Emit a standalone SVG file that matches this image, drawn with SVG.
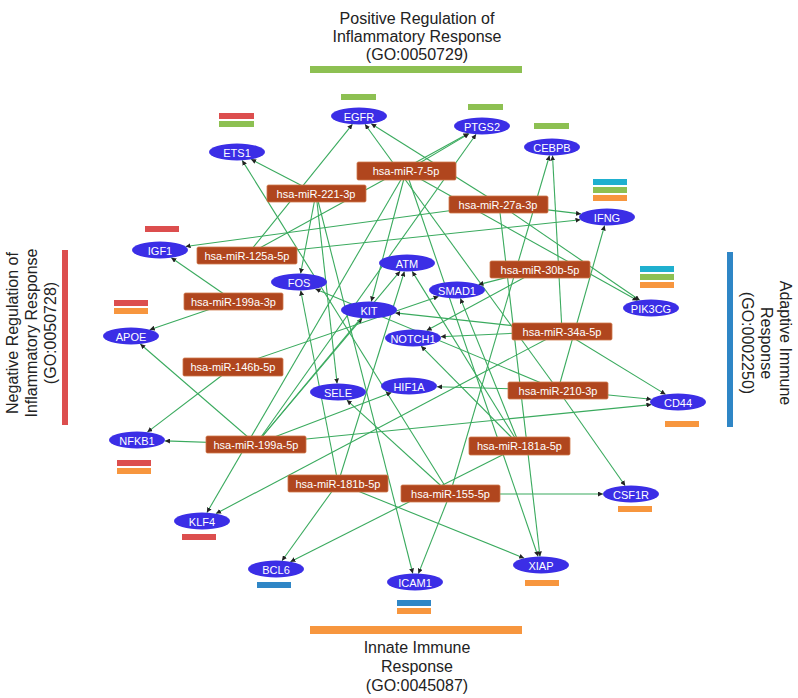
<svg xmlns="http://www.w3.org/2000/svg" width="798" height="698" viewBox="0 0 798 698">
<style>
.t{font-family:"Liberation Sans",Arial,sans-serif;font-size:16px;fill:#222;text-anchor:middle}
.g ellipse{fill:#3b2ee6}
.g text,.m text{font-family:"Liberation Sans",Arial,sans-serif;font-size:11px;fill:#fff;text-anchor:middle;dominant-baseline:central}
.m rect{fill:#b0461e;stroke:#cf7a4c;stroke-width:0.8}
#edges line{stroke:#3aaa5e;stroke-width:1.1;marker-end:url(#ah)}
.pos{fill:#8dc052}.neg{fill:#dc4e4e}.inn{fill:#f7963e}.ada{fill:#2f86c6}.cy{fill:#1fb0cf}
</style>
<defs>
<marker id="ah" viewBox="0 0 10 10" refX="10" refY="5" markerWidth="5" markerHeight="5" markerUnits="userSpaceOnUse" orient="auto">
<path d="M0,0 L10,5 L0,10 z" fill="#222"/>
</marker>
</defs>
<rect width="798" height="698" fill="#fff"/>
<g id="categories">
<rect class="pos" x="310" y="66" width="212" height="7"/>
<text class="t" x="417" y="24">Positive Regulation of</text>
<text class="t" x="417" y="42">Inflammatory Response</text>
<text class="t" x="417" y="60">(GO:0050729)</text>
<rect class="neg" x="62" y="250" width="6" height="175"/>
<text class="t" transform="translate(18,333) rotate(-90)">Negative Regulation of</text>
<text class="t" transform="translate(37,333) rotate(-90)">Inflammatory Response</text>
<text class="t" transform="translate(56,333) rotate(-90)">(GO:0050728)</text>
<rect class="ada" x="727" y="252" width="6" height="175"/>
<text class="t" transform="translate(780,343) rotate(90)">Adaptive Immune</text>
<text class="t" transform="translate(761,343) rotate(90)">Response</text>
<text class="t" transform="translate(742,343) rotate(90)">(GO:0002250)</text>
<rect class="inn" x="310" y="626" width="212" height="8"/>
<text class="t" x="417" y="653">Innate Immune</text>
<text class="t" x="417" y="672">Response</text>
<text class="t" x="417" y="691">(GO:0045087)</text>
</g>
<g id="edges">
<line x1="316" y1="193" x2="251.1" y2="159.3"/>
<line x1="450" y1="494" x2="242.2" y2="160.4"/>
<line x1="247" y1="255" x2="352.4" y2="124.3"/>
<line x1="499" y1="204" x2="371.2" y2="123.7"/>
<line x1="558" y1="390" x2="365" y2="124.3"/>
<line x1="406" y1="171" x2="469.2" y2="133.6"/>
<line x1="247" y1="255" x2="468.4" y2="133.4"/>
<line x1="256" y1="444" x2="476.1" y2="134.3"/>
<line x1="562" y1="331" x2="552.5" y2="155.5"/>
<line x1="450" y1="494" x2="549.5" y2="155.5"/>
<line x1="499" y1="204" x2="581" y2="213.9"/>
<line x1="247" y1="255" x2="580.5" y2="219.8"/>
<line x1="558" y1="390" x2="604.6" y2="225.5"/>
<line x1="499" y1="204" x2="185.6" y2="246.5"/>
<line x1="234" y1="301" x2="171.3" y2="257.8"/>
<line x1="234" y1="301" x2="149.7" y2="329.7"/>
<line x1="256" y1="444" x2="140.3" y2="344"/>
<line x1="406" y1="171" x2="637.6" y2="300.5"/>
<line x1="499" y1="204" x2="639.7" y2="300.2"/>
<line x1="540" y1="269" x2="478.5" y2="284.6"/>
<line x1="520" y1="446" x2="460.4" y2="298.4"/>
<line x1="338" y1="483" x2="404.4" y2="271.5"/>
<line x1="520" y1="446" x2="412.2" y2="271.4"/>
<line x1="406" y1="171" x2="371.3" y2="301.5"/>
<line x1="562" y1="331" x2="395.3" y2="312.9"/>
<line x1="256" y1="444" x2="362.1" y2="318.2"/>
<line x1="562" y1="331" x2="440.7" y2="336.7"/>
<line x1="540" y1="269" x2="426.7" y2="330.6"/>
<line x1="520" y1="446" x2="421.1" y2="346.1"/>
<line x1="316" y1="193" x2="300.6" y2="273.5"/>
<line x1="338" y1="483" x2="300.7" y2="290.5"/>
<line x1="558" y1="390" x2="315.5" y2="288.9"/>
<line x1="316" y1="193" x2="337.1" y2="383.5"/>
<line x1="450" y1="494" x2="346.9" y2="400.1"/>
<line x1="558" y1="390" x2="437" y2="386.8"/>
<line x1="256" y1="444" x2="391.5" y2="392.6"/>
<line x1="562" y1="331" x2="665.6" y2="394.4"/>
<line x1="558" y1="390" x2="651.4" y2="399.3"/>
<line x1="256" y1="444" x2="651.4" y2="404.6"/>
<line x1="450" y1="494" x2="603" y2="494"/>
<line x1="558" y1="390" x2="625.2" y2="485.7"/>
<line x1="233" y1="367" x2="147.4" y2="432.1"/>
<line x1="256" y1="444" x2="165" y2="440.9"/>
<line x1="406" y1="171" x2="206.9" y2="512.6"/>
<line x1="562" y1="331" x2="216" y2="513.6"/>
<line x1="338" y1="483" x2="282" y2="560.7"/>
<line x1="520" y1="446" x2="290.4" y2="561.7"/>
<line x1="316" y1="193" x2="412.8" y2="573.5"/>
<line x1="450" y1="494" x2="418.4" y2="573.6"/>
<line x1="338" y1="483" x2="524.2" y2="558.2"/>
<line x1="406" y1="171" x2="538.1" y2="556.5"/>
<line x1="499" y1="204" x2="540" y2="556.5"/>
<line x1="233" y1="367" x2="438.5" y2="296.4"/>
<line x1="256" y1="444" x2="400.1" y2="271.2"/>
</g>
<g id="annotations">
<rect class="pos" x="341" y="94" width="35" height="6"/>
<rect class="neg" x="219" y="113" width="35" height="6"/>
<rect class="pos" x="219" y="121" width="35" height="6"/>
<rect class="pos" x="468" y="104" width="35" height="6"/>
<rect class="pos" x="534" y="123" width="35" height="6"/>
<rect class="cy" x="593" y="179" width="34" height="6"/>
<rect class="pos" x="593" y="187" width="34" height="6"/>
<rect class="inn" x="593" y="195" width="34" height="6"/>
<rect class="neg" x="145" y="226" width="34" height="6"/>
<rect class="neg" x="114" y="300" width="34" height="6"/>
<rect class="inn" x="114" y="308" width="34" height="6"/>
<rect class="cy" x="640" y="266" width="34" height="6"/>
<rect class="pos" x="640" y="274" width="34" height="6"/>
<rect class="inn" x="640" y="282" width="34" height="6"/>
<rect class="inn" x="665" y="421" width="34" height="6"/>
<rect class="neg" x="117" y="460" width="34" height="6"/>
<rect class="inn" x="117" y="468" width="34" height="6"/>
<rect class="inn" x="618" y="506" width="34" height="6"/>
<rect class="neg" x="182" y="534" width="34" height="6"/>
<rect class="ada" x="257" y="582" width="34" height="6"/>
<rect class="inn" x="525" y="580" width="34" height="6"/>
<rect class="ada" x="397" y="600" width="34" height="6"/>
<rect class="inn" x="397" y="608" width="34" height="6"/>
</g>
<g id="mirnas" class="m">
<g id="miR-7-5p"><rect x="357" y="162" width="99" height="18" rx="1.5"/><text x="406" y="171">hsa-miR-7-5p</text></g>
<g id="miR-221-3p"><rect x="267" y="185" width="99" height="17" rx="1.5"/><text x="316" y="193.5">hsa-miR-221-3p</text></g>
<g id="miR-27a-3p"><rect x="449" y="196" width="99" height="17" rx="1.5"/><text x="498" y="204.5">hsa-miR-27a-3p</text></g>
<g id="miR-125a-5p"><rect x="197" y="247" width="100" height="17" rx="1.5"/><text x="247" y="255.5">hsa-miR-125a-5p</text></g>
<g id="miR-199a-3p"><rect x="184" y="293" width="99" height="17" rx="1.5"/><text x="233.5" y="301.5">hsa-miR-199a-3p</text></g>
<g id="miR-30b-5p"><rect x="490" y="261" width="100" height="17" rx="1.5"/><text x="540" y="269.5">hsa-miR-30b-5p</text></g>
<g id="miR-34a-5p"><rect x="512" y="323" width="100" height="17" rx="1.5"/><text x="562" y="331.5">hsa-miR-34a-5p</text></g>
<g id="miR-146b-5p"><rect x="183" y="358" width="100" height="18" rx="1.5"/><text x="233" y="367">hsa-miR-146b-5p</text></g>
<g id="miR-210-3p"><rect x="508" y="382" width="100" height="17" rx="1.5"/><text x="558" y="390.5">hsa-miR-210-3p</text></g>
<g id="miR-199a-5p"><rect x="206" y="436" width="100" height="17" rx="1.5"/><text x="256" y="444.5">hsa-miR-199a-5p</text></g>
<g id="miR-181a-5p"><rect x="469" y="437" width="101" height="18" rx="1.5"/><text x="519.5" y="446">hsa-miR-181a-5p</text></g>
<g id="miR-181b-5p"><rect x="288" y="475" width="100" height="17" rx="1.5"/><text x="338" y="483.5">hsa-miR-181b-5p</text></g>
<g id="miR-155-5p"><rect x="401" y="485" width="99" height="17" rx="1.5"/><text x="450.5" y="493.5">hsa-miR-155-5p</text></g>
</g>
<g id="genes" class="g">
<g id="EGFR"><ellipse cx="359" cy="116" rx="28" ry="8.5"/><text x="359" y="116.5">EGFR</text></g>
<g id="PTGS2"><ellipse cx="482" cy="126" rx="28" ry="8.5"/><text x="482" y="126.5">PTGS2</text></g>
<g id="CEBPB"><ellipse cx="552" cy="147" rx="28" ry="8.5"/><text x="552" y="147.5">CEBPB</text></g>
<g id="ETS1"><ellipse cx="237" cy="152" rx="28" ry="8.5"/><text x="237" y="152.5">ETS1</text></g>
<g id="IFNG"><ellipse cx="607" cy="217" rx="28" ry="8.5"/><text x="607" y="217.5">IFNG</text></g>
<g id="IGF1"><ellipse cx="160" cy="250" rx="28" ry="8.5"/><text x="160" y="250.5">IGF1</text></g>
<g id="FOS"><ellipse cx="299" cy="282" rx="28" ry="8.5"/><text x="299" y="282.5">FOS</text></g>
<g id="ATM"><ellipse cx="407" cy="263" rx="28" ry="8.5"/><text x="407" y="263.5">ATM</text></g>
<g id="SMAD1"><ellipse cx="457" cy="290" rx="28" ry="8.5"/><text x="457" y="290.5">SMAD1</text></g>
<g id="KIT"><ellipse cx="369" cy="310" rx="28" ry="8.5"/><text x="369" y="310.5">KIT</text></g>
<g id="PIK3CG"><ellipse cx="651" cy="308" rx="28" ry="8.5"/><text x="651" y="308.5">PIK3CG</text></g>
<g id="APOE"><ellipse cx="131" cy="336" rx="28" ry="8.5"/><text x="131" y="336.5">APOE</text></g>
<g id="NOTCH1"><ellipse cx="413" cy="338" rx="28" ry="8.5"/><text x="413" y="338.5">NOTCH1</text></g>
<g id="SELE"><ellipse cx="338" cy="392" rx="28" ry="8.5"/><text x="338" y="392.5">SELE</text></g>
<g id="HIF1A"><ellipse cx="409" cy="386" rx="28" ry="8.5"/><text x="409" y="386.5">HIF1A</text></g>
<g id="CD44"><ellipse cx="678" cy="402" rx="28" ry="8.5"/><text x="678" y="402.5">CD44</text></g>
<g id="NFKB1"><ellipse cx="137" cy="440" rx="28" ry="8.5"/><text x="137" y="440.5">NFKB1</text></g>
<g id="CSF1R"><ellipse cx="631" cy="494" rx="28" ry="8.5"/><text x="631" y="494.5">CSF1R</text></g>
<g id="KLF4"><ellipse cx="202" cy="521" rx="28" ry="8.5"/><text x="202" y="521.5">KLF4</text></g>
<g id="BCL6"><ellipse cx="276" cy="569" rx="28" ry="8.5"/><text x="276" y="569.5">BCL6</text></g>
<g id="XIAP"><ellipse cx="541" cy="565" rx="28" ry="8.5"/><text x="541" y="565.5">XIAP</text></g>
<g id="ICAM1"><ellipse cx="415" cy="582" rx="28" ry="8.5"/><text x="415" y="582.5">ICAM1</text></g>
</g>
</svg>
